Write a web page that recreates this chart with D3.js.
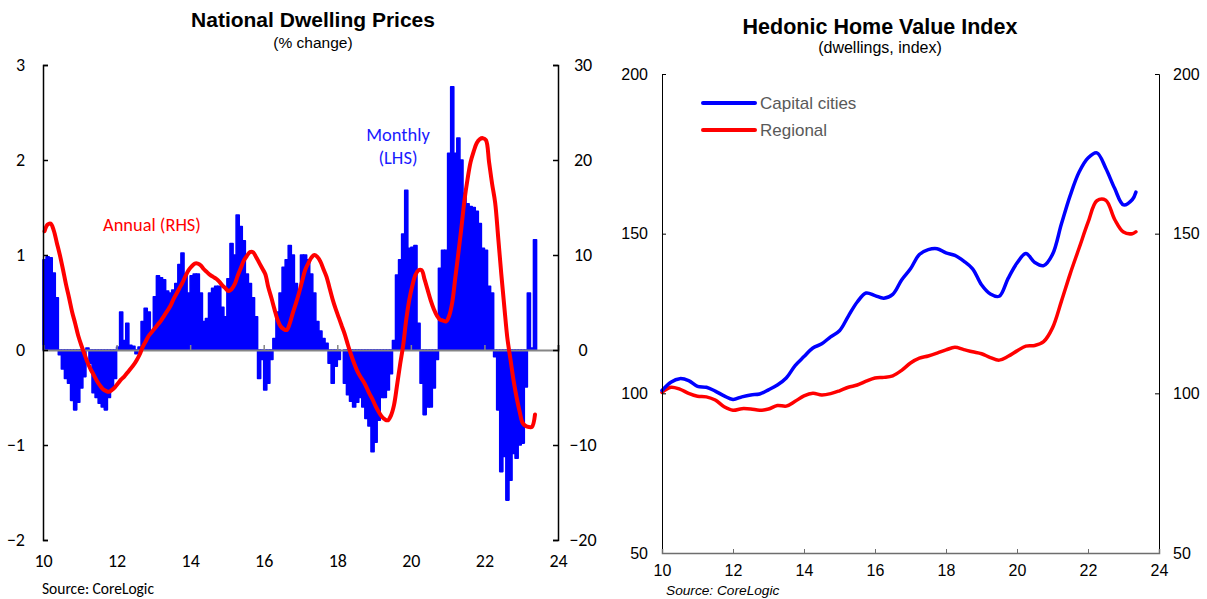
<!DOCTYPE html>
<html><head><meta charset="utf-8">
<script src="https://cdn.jsdelivr.net/npm/d3@7"></script>
<style>body{margin:0;background:#fff} svg{display:block}</style>
</head><body>
<svg id="c" width="1207" height="599"></svg>
<script>
// ---------- DATA ----------
// Monthly % change in national dwelling prices, Jan 2010 .. May 2023 (LHS)
const monthlyChange = [
 0.95,0.98,0.97,0.81,0.55,-0.05,-0.2,-0.3,-0.35,-0.53,
 -0.63,-0.55,-0.4,-0.28,0.02,-0.14,-0.45,-0.5,-0.56,-0.6,
 -0.63,-0.5,-0.4,-0.3,0.03,0.40,0.1,0.28,0.05,0.04,
 -0.04,0.03,0.3,0.44,0.4,0.17,0.56,0.78,0.76,0.74,
 0.62,0.6,0.63,0.7,0.9,1.02,0.8,0.6,0.78,0.8,
 0.8,0.6,0.3,0.33,0.6,0.65,0.67,0.67,0.45,0.35,
 0.75,1.12,1.0,1.42,1.3,1.15,0.8,0.7,0.55,0.35,
 -0.3,-0.1,-0.42,-0.35,-0.1,0.12,0.4,0.6,0.87,0.95,
 1.1,1.0,0.7,0.63,1.0,1.0,0.95,0.8,0.6,0.3,
 0.2,0.12,0.07,-0.14,-0.35,-0.17,-0.1,0.0,-0.35,-0.47,
 -0.54,-0.6,-0.55,-0.5,-0.6,-0.72,-0.8,-1.07,-0.97,-0.74,
 -0.5,-0.5,-0.42,-0.25,0.1,0.79,0.95,1.22,1.68,1.07,
 1.08,1.1,0.28,-0.35,-0.68,-0.6,-0.6,-0.4,-0.1,0.86,
 1.05,1.05,2.07,2.77,2.07,2.23,2.0,1.65,1.54,1.51,
 1.5,1.46,1.33,1.07,1.05,0.67,0.6,-0.07,-0.63,-1.28,
 -1.12,-1.58,-1.37,-1.09,-1.14,-1.0,-0.98,-0.39,0.6,0.02,
 1.16
];
// Annual % change (RHS), same months
const annualChange = [
 12.5,13.2,13.3,12.6,11.3,10.0,8.5,6.9,5.5,4.0,
 2.8,1.5,0.5,-0.4,-1.3,-2.0,-2.6,-3.2,-3.7,-4.1,
 -4.3,-4.4,-4.2,-3.9,-3.5,-3.1,-2.8,-2.4,-2.0,-1.6,
 -1.1,-0.5,0.3,0.9,1.5,1.9,2.3,2.7,3.1,3.6,
 4.1,4.6,5.3,5.9,6.5,7.1,7.8,8.4,8.8,9.1,
 9.1,8.9,8.5,8.2,7.9,7.7,7.5,7.2,6.8,6.5,
 6.2,6.4,6.9,7.8,8.6,9.4,9.9,10.3,10.3,9.8,
 9.2,8.6,8.0,6.6,5.5,4.3,3.2,2.5,2.2,2.1,
 2.8,3.9,4.9,6.0,7.2,8.4,9.1,9.7,10.0,9.8,
 9.3,8.5,7.7,6.5,5.3,4.3,3.4,2.5,1.6,0.5,
 -0.5,-1.4,-2.2,-2.8,-3.3,-3.9,-4.6,-5.2,-5.9,-6.5,
 -7.0,-7.3,-7.4,-6.9,-5.8,-3.7,-1.5,0.5,3.2,5.3,
 6.8,7.9,8.4,8.4,7.4,6.3,5.2,4.3,3.6,3.2,
 3.1,3.0,3.6,5.0,7.6,10.2,12.9,15.8,18.0,19.8,
 20.9,21.8,22.2,22.3,22.1,19.8,17.5,15.5,11.8,8.0,
 4.5,1.2,-1.0,-3.2,-5.0,-6.5,-7.7,-8.0,-8.1,-8.1,
 -6.8
];
// Hedonic home value index (quarterly reading), years since 2000
const indexDates = [
 10,10.25,10.5,10.75,11,11.25,11.5,11.75,12,12.25,12.5,12.75,
 13,13.25,13.5,13.75,14,14.25,14.5,14.75,15,15.25,15.5,15.75,
 16,16.25,16.5,16.75,17,17.25,17.5,17.75,18,18.25,18.5,18.75,
 19,19.25,19.5,19.75,20,20.25,20.5,20.75,21,21.25,21.5,21.75,
 22,22.25,22.5,22.75,23,23.25,23.35
];
const capitalCities = [
 100.9,103.5,104.6,104.0,102.2,101.9,100.7,99.2,98.1,98.9,99.5,99.8,
 101.1,102.6,104.8,108.7,111.5,114.2,115.5,117.7,119.6,124.2,128.6,131.4,
 130.6,129.8,131.0,135.5,139.0,143.5,145.0,145.3,144.0,143.2,141.4,139.0,
 134.0,131.1,130.4,136.0,140.8,143.8,141.0,140.0,143.5,153.0,162.0,169.3,
 173.7,175.3,170.5,164.2,159.0,160.7,163.0
];
const regional = [
 100.3,101.9,101.3,100.0,99.1,98.9,97.9,95.8,94.7,95.2,95.1,94.7,
 95.1,96.2,96.0,97.5,99.2,100.0,99.5,99.9,100.8,101.9,102.6,103.8,
 104.8,105.0,105.5,107.2,109.5,111.0,111.7,112.6,113.6,114.4,113.7,113.0,
 112.4,111.2,110.4,111.6,113.3,114.8,115.0,116.2,120.5,128.8,137.5,145.5,
 153.5,160.3,160.5,154.5,150.5,150.0,150.6
];
const yearTicks = [10,12,14,16,18,20,22,24];
const lhsTicks = [-2,-1,0,1,2,3];
const rhsTicks = [-20,-10,0,10,20,30];
const indexTicks = [50,100,150,200];
const legendItems = ["Capital cities","Regional"];

// ---------- DRAW ----------
const svg = d3.select('#c');
const FL = "Carlito, Lato, 'Open Sans', sans-serif";
const FR = "'Liberation Sans', Arial, sans-serif";
const BLUE = "#0000ff", RED = "#ff0000", GREY = "#868686";

// ===== Left panel =====
const L = svg.append('g');
const xL = d3.scaleLinear().domain([10,24]).range([43,558]);
const yL = d3.scaleLinear().domain([-2,3]).range([540,65]);
const yR = d3.scaleLinear().domain([-20,30]).range([540,65]);
const mt = i => 10 + (i + 0.5) / 12;
const bw = xL(10 + 1/12) - xL(10);

L.append('g').selectAll('rect').data(monthlyChange).join('rect')
  .attr('x', (d,i) => xL(mt(i)) - bw/2)
  .attr('width', bw)
  .attr('y', d => yL(Math.max(0,d)))
  .attr('height', d => Math.abs(yL(d) - yL(0)))
  .attr('fill', BLUE).attr('stroke', BLUE).attr('stroke-width', 1.6)
  .attr('stroke-linejoin','round');

// zero axis (grey) with upward ticks
const zeroAx = L.append('g').attr('transform', `translate(0,${yL(0)})`)
  .call(d3.axisBottom(xL).tickValues(yearTicks).tickSize(-5).tickFormat(''));
zeroAx.select('.domain').attr('stroke', GREY).attr('stroke-width', 2);
zeroAx.selectAll('.tick line').attr('stroke', GREY).attr('stroke-width', 1.5);

// annual line
L.append('path').datum(annualChange)
  .attr('d', d3.line().x((d,i) => xL(mt(i))).y(d => yR(d)).curve(d3.curveCatmullRom))
  .attr('fill','none').attr('stroke', RED).attr('stroke-width', 4)
  .attr('stroke-linejoin','round').attr('stroke-linecap','round');

// left axis
const axL = L.append('g').attr('transform', `translate(${xL(10)},0)`)
  .call(d3.axisLeft(yL).tickValues(lhsTicks).tickSize(-5).tickPadding(18).tickFormat(d3.format('d')));
axL.select('.domain').attr('stroke','#000').attr('stroke-width',1.5);
axL.selectAll('.tick line').attr('stroke','#000').attr('stroke-width',1.5);
axL.selectAll('text').attr('font-family', FL).attr('font-size', 18).attr('fill','#000');

// right axis
const axR = L.append('g').attr('transform', `translate(${xL(24)},0)`)
  .call(d3.axisRight(yR).tickValues(rhsTicks).tickSize(-5).tickPadding(25).tickFormat(d3.format('d')));
axR.select('.domain').attr('stroke','#000').attr('stroke-width',1.5);
axR.selectAll('.tick line').attr('stroke','#000').attr('stroke-width',1.5);
axR.selectAll('text').attr('font-family', FL).attr('font-size', 18).attr('fill','#000').attr('text-anchor','middle');

// bottom labels
const axB = L.append('g').attr('transform', `translate(0,${yL(-2)})`)
  .call(d3.axisBottom(xL).tickValues(yearTicks).tickSize(0).tickPadding(14).tickFormat(d3.format('d')));
axB.select('.domain').remove();
axB.selectAll('text').attr('font-family', FL).attr('font-size', 18).attr('fill','#000');

L.append('text').attr('x', 313).attr('y', 27).attr('text-anchor','middle')
  .attr('font-family', FR).attr('font-weight','bold').attr('font-size', 21).text('National Dwelling Prices');
L.append('text').attr('x', 313).attr('y', 48).attr('text-anchor','middle')
  .attr('font-family', FR).attr('font-size', 15.5).text('(% change)');
L.append('text').attr('x', 103).attr('y', 231)
  .attr('font-family', FL).attr('font-size', 18.4).attr('fill', RED).text('Annual (RHS)');
L.append('text').attr('x', 398).attr('y', 141).attr('text-anchor','middle')
  .attr('font-family', FL).attr('font-size', 18.5).attr('fill', '#1a1aff').text('Monthly');
L.append('text').attr('x', 398).attr('y', 164).attr('text-anchor','middle')
  .attr('font-family', FL).attr('font-size', 18.5).attr('fill', '#1a1aff').text('(LHS)');
L.append('text').attr('x', 42).attr('y', 594)
  .attr('font-family', FL).attr('font-size', 15.5).text('Source: CoreLogic');

// ===== Right panel =====
const R = svg.append('g');
const x2 = d3.scaleLinear().domain([10,24]).range([662,1159]);
const y2 = d3.scaleLinear().domain([50,200]).range([553,74]);

const ln = d3.line().x((d,i) => x2(indexDates[i])).y(d => y2(d)).curve(d3.curveCatmullRom);
R.append('path').datum(regional).attr('d', ln)
  .attr('fill','none').attr('stroke', RED).attr('stroke-width', 3.5).attr('stroke-linecap','round');
R.append('path').datum(capitalCities).attr('d', ln)
  .attr('fill','none').attr('stroke', BLUE).attr('stroke-width', 3.5).attr('stroke-linecap','round');

const a2L = R.append('g').attr('transform', `translate(${x2(10)},0)`)
  .call(d3.axisLeft(y2).tickValues(indexTicks).tickSize(-4).tickPadding(14));
a2L.select('.domain').attr('stroke','#000').attr('stroke-width',1);
a2L.selectAll('text').attr('font-family', FR).attr('font-size', 16).attr('fill','#000');
const a2R = R.append('g').attr('transform', `translate(${x2(24)},0)`)
  .call(d3.axisRight(y2).tickValues(indexTicks).tickSize(-4).tickPadding(14));
a2R.select('.domain').attr('stroke','#000').attr('stroke-width',1);
a2R.selectAll('text').attr('font-family', FR).attr('font-size', 16).attr('fill','#000');
const a2B = R.append('g').attr('transform', `translate(0,${y2(50)})`)
  .call(d3.axisBottom(x2).tickValues(yearTicks).tickSize(-4).tickPadding(12).tickFormat(d3.format('d')));
a2B.select('.domain').attr('stroke','#6e6e6e').attr('stroke-width',1.5);
a2B.selectAll('.tick line').attr('stroke','#6e6e6e');
a2B.selectAll('text').attr('font-family', FR).attr('font-size', 16).attr('fill','#000');

R.append('text').attr('x', 880).attr('y', 34).attr('text-anchor','middle')
  .attr('font-family', FR).attr('font-weight','bold').attr('font-size', 21.5).text('Hedonic Home Value Index');
R.append('text').attr('x', 880).attr('y', 53).attr('text-anchor','middle')
  .attr('font-family', FR).attr('font-size', 16).text('(dwellings, index)');

const lg = R.append('g');
lg.selectAll('line').data(legendItems).join('line')
  .attr('x1', 703).attr('x2', 755)
  .attr('y1', (d,i) => 103 + i*27).attr('y2', (d,i) => 103 + i*27)
  .attr('stroke', (d,i) => i === 0 ? BLUE : RED).attr('stroke-width', 4).attr('stroke-linecap','round');
lg.selectAll('text').data(legendItems).join('text')
  .attr('x', 760).attr('y', (d,i) => 109 + i*27)
  .attr('font-family', FR).attr('font-size', 17).attr('fill','#595959').text(d => d);

R.append('text').attr('x', 666).attr('y', 595)
  .attr('font-family', FR).attr('font-style','italic').attr('font-size', 13.7).text('Source: CoreLogic');
</script>
</body></html>
